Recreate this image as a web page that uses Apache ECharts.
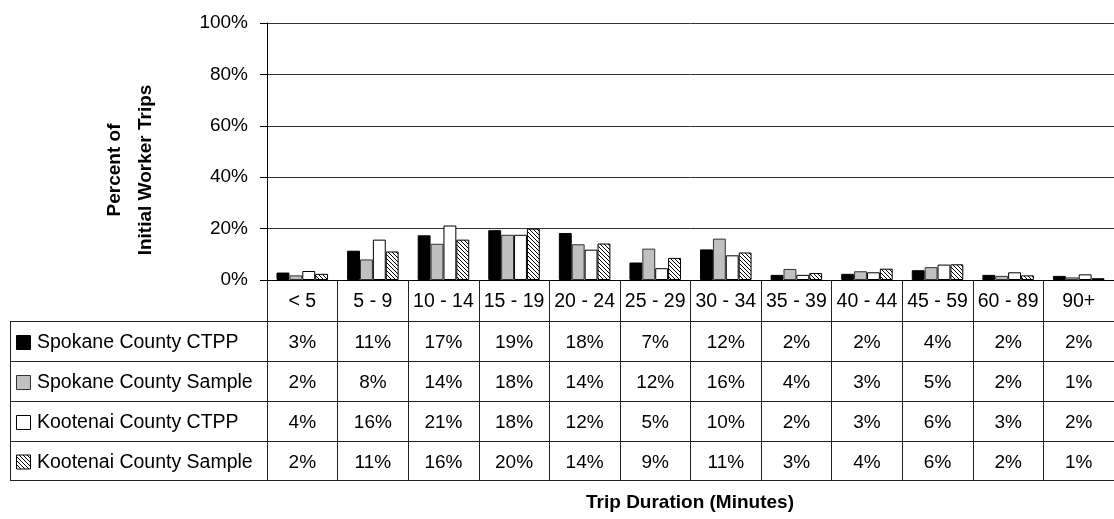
<!DOCTYPE html>
<html>
<head>
<meta charset="utf-8">
<script src="https://cdn.jsdelivr.net/npm/echarts@6/dist/echarts.min.js"></script>
<style>
  html, body { margin: 0; padding: 0; background: #fff; }
  #chart { width: 1114px; height: 519px; }
</style>
</head>
<body>
<div id="chart"></div>
<script>
// Trip duration bins (minutes)
const categories = ['< 5', '5 - 9', '10 - 14', '15 - 19', '20 - 24', '25 - 29', '30 - 34', '35 - 39', '40 - 44', '45 - 59', '60 - 89', '90+'];

const seriesNames = ['Spokane County CTPP', 'Spokane County Sample', 'Kootenai County CTPP', 'Kootenai County Sample'];

// Percent of initial worker trips in each bin
const spokaneCtpp    = [2.9, 11.4, 17.4, 19.4, 18.3, 6.8, 11.9, 2.0, 2.4, 3.8, 2.0, 1.6];
const spokaneSample  = [1.8, 8.0, 14.1, 17.6, 13.9, 12.2, 16.1, 4.3, 3.4, 5.0, 1.6, 1.0];
const kootenaiCtpp   = [3.5, 15.7, 21.2, 17.6, 11.8, 4.6, 9.6, 2.0, 3.0, 6.0, 3.0, 2.2];
const kootenaiSample = [2.4, 11.1, 15.7, 20.0, 14.2, 8.6, 10.7, 2.7, 4.4, 6.1, 1.8, 0.7];

const yAxisTitle = ['Percent of', 'Initial Worker Trips'];
const xAxisTitle = 'Trip Duration (Minutes)';

const FONT = '"Liberation Sans", Arial, Helvetica, sans-serif';

// Diagonal hatch fill used for the Kootenai sample bars
function makeHatch() {
  const c = document.createElement('canvas');
  c.width = 4; c.height = 4;
  const g = c.getContext('2d');
  g.fillStyle = '#fff';
  g.fillRect(0, 0, 4, 4);
  g.strokeStyle = '#000';
  g.lineWidth = 1;
  g.beginPath();
  g.moveTo(-1, -1); g.lineTo(5, 5);
  g.moveTo(-1, 3); g.lineTo(1, 5);
  g.moveTo(3, -1); g.lineTo(5, 1);
  g.stroke();
  return c;
}
const hatchFill = { image: makeHatch(), repeat: 'repeat' };

const fills = ['#000000', '#c0c0c0', '#ffffff', hatchFill];
const borders = ['#000000', '#333333', '#000000', '#000000'];
const seriesData = [spokaneCtpp, spokaneSample, kootenaiCtpp, kootenaiSample];

const chart = echarts.init(document.getElementById('chart'), null, { renderer: 'canvas' });

chart.setOption({
  animation: false,
  backgroundColor: '#fff',
  grid: { left: 267, top: 23, width: 854, bottom: 239, containLabel: false },
  xAxis: {
    type: 'category',
    data: categories,
    boundaryGap: true,
    axisLine: { show: true, lineStyle: { color: '#000', width: 1 } },
    axisTick: { show: true, interval: 0, length: 200, lineStyle: { color: '#222', width: 1 } },
    axisLabel: { interval: 0, margin: 12, color: '#000', fontFamily: FONT, fontSize: 19.5 }
  },
  yAxis: {
    type: 'value',
    min: 0, max: 100, interval: 20,
    axisLine: { show: true, lineStyle: { color: '#000', width: 1 } },
    axisTick: { show: true, length: 7, lineStyle: { color: '#000' } },
    axisLabel: { margin: 19, color: '#000', fontFamily: FONT, fontSize: 19, formatter: '{value}%' },
    splitLine: { show: true, lineStyle: { color: '#333', width: 1 } }
  },
  series: seriesNames.map((name, i) => ({
    name: name,
    type: 'bar',
    data: seriesData[i],
    barGap: '0%',
    barCategoryGap: '27%',
    itemStyle: { color: fills[i], borderColor: borders[i], borderWidth: 1 }
  }))
});

// Data table under the plot: category borders come from the x axis ticks,
// rows and cell text are placed against the axis pixel positions.
const tableLeft = 10;
const tableRight = 1114;
const rowLines = [321.5, 361.5, 401.5, 441.5, 480.5];
const rowCenters = [342, 382, 422, 461.5];

const graphic = [];
rowLines.forEach(y => {
  graphic.push({ type: 'line', silent: true,
    shape: { x1: tableLeft, y1: y, x2: tableRight, y2: y },
    style: { stroke: '#222', lineWidth: 1 } });
});
graphic.push({ type: 'line', silent: true,
  shape: { x1: tableLeft + 0.5, y1: rowLines[0], x2: tableLeft + 0.5, y2: rowLines[rowLines.length - 1] },
  style: { stroke: '#222', lineWidth: 1 } });

seriesNames.forEach((name, r) => {
  const cy = rowCenters[r];
  graphic.push({ type: 'rect', silent: true,
    shape: { x: 16.5, y: cy - 6.5, width: 14, height: 14 },
    style: { fill: fills[r], stroke: r === 1 ? '#333' : '#000', lineWidth: 1 } });
  graphic.push({ type: 'text', silent: true,
    style: { x: 37, y: cy + 1, text: name, fill: '#000', font: '19.5px ' + FONT, align: 'left', verticalAlign: 'middle' } });
  seriesData[r].forEach((v, c) => {
    const px = chart.convertToPixel({ xAxisIndex: 0 }, categories[c]);
    graphic.push({ type: 'text', silent: true,
      style: { x: px, y: cy + 1, text: Math.round(v) + '%', fill: '#000', font: '19px ' + FONT, align: 'center', verticalAlign: 'middle' } });
  });
});

// Axis titles
graphic.push({ type: 'text', silent: true, x: 114.5, y: 170, rotation: Math.PI / 2,
  style: { x: 0, y: 0, text: yAxisTitle[0], fill: '#000', font: 'bold 19px ' + FONT, align: 'center', verticalAlign: 'middle' } });
graphic.push({ type: 'text', silent: true, x: 146, y: 170, rotation: Math.PI / 2,
  style: { x: 0, y: 0, text: yAxisTitle[1], fill: '#000', font: 'bold 19px ' + FONT, align: 'center', verticalAlign: 'middle' } });
graphic.push({ type: 'text', silent: true,
  style: { x: 690, y: 503, text: xAxisTitle, fill: '#000', font: 'bold 19px ' + FONT, align: 'center', verticalAlign: 'middle' } });

chart.setOption({ graphic: graphic });
</script>
</body>
</html>
